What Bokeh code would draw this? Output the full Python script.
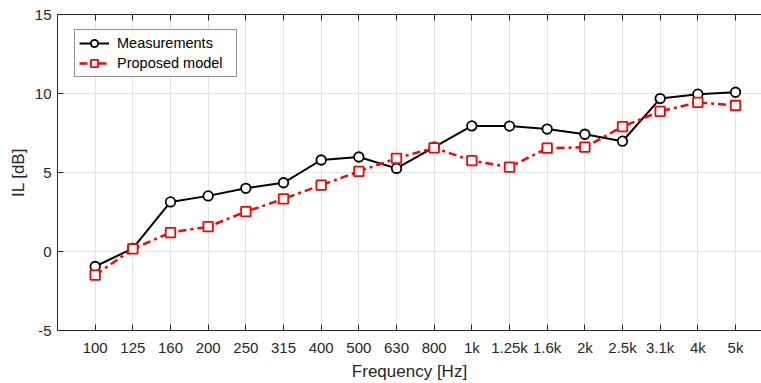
from bokeh.plotting import figure
from bokeh.models import (Range1d, FixedTicker, LinearAxis, Legend, LegendItem,
                          ColumnDataSource, Grid, CustomLabelingPolicy)
from bokeh.embed import file_html
from bokeh.resources import INLINE

# Insertion loss per 1/3-octave band
freq_labels = ["100", "125", "160", "200", "250", "315", "400", "500", "630",
               "800", "1k", "1.25k", "1.6k", "2k", "2.5k", "3.1k", "4k", "5k"]
measured = [-0.95, 0.2, 3.14, 3.52, 4.0, 4.35, 5.79, 5.98, 5.26, 6.6,
            7.95, 7.94, 7.75, 7.42, 6.98, 9.68, 9.96, 10.08]
model = [-1.49, 0.16, 1.2, 1.57, 2.52, 3.33, 4.2, 5.07, 5.9, 6.56,
         5.75, 5.34, 6.54, 6.6, 7.9, 8.87, 9.44, 9.24]
y_ticks = [-5, 0, 5, 10, 15]
y_tick_labels = ["-5", "0", "5", "10", "15"]

band_index = list(range(len(freq_labels)))
src = ColumnDataSource(dict(x=band_index, meas=measured, model=model))

FONT = "Liberation Sans"
AXIS_COLOR = "#262626"

p = figure(width=761, height=383, output_backend="svg", toolbar_location=None,
           x_range=Range1d(-1, 17.69), y_range=Range1d(-5, 15),
           min_border_left=57, min_border_right=0, min_border_top=14,
           min_border_bottom=51, x_axis_location=None, y_axis_location=None)
p.outline_line_color = None
p.background_fill_color = "white"
p.border_fill_color = "white"

xt = FixedTicker(ticks=band_index, minor_ticks=[])
yt = FixedTicker(ticks=y_ticks, minor_ticks=[])


def style_axis(ax):
    ax.axis_line_color = AXIS_COLOR
    ax.axis_line_width = 1
    ax.major_tick_line_color = AXIS_COLOR
    ax.major_tick_in = 6
    ax.major_tick_out = 0
    ax.minor_tick_line_color = None
    ax.major_label_text_font = FONT
    ax.major_label_text_font_size = "15px"
    ax.major_label_text_color = AXIS_COLOR
    ax.axis_label_text_font = FONT
    ax.axis_label_text_font_size = "17px"
    ax.axis_label_text_font_style = "normal"
    ax.axis_label_text_color = AXIS_COLOR


xb = LinearAxis(ticker=xt, axis_label="Frequency [Hz]",
                major_label_overrides={i: s for i, s in zip(band_index, freq_labels)})
style_axis(xb)
xb.major_label_standoff = 8
xb.axis_label_standoff = 3
p.add_layout(xb, "below")

# box edge along the top, ticks only
xtop = LinearAxis(ticker=xt, major_label_policy=CustomLabelingPolicy(
    code="for (const i of Array.from(indices)) { indices.unset(i) } return indices"))
style_axis(xtop)
xtop.major_label_standoff = 0
p.add_layout(xtop, "above")

yl = LinearAxis(ticker=yt, axis_label="IL [dB]",
                major_label_overrides={t: s for t, s in zip(y_ticks, y_tick_labels)})
style_axis(yl)
yl.major_label_standoff = 6
yl.axis_label_standoff = 4
p.add_layout(yl, "left")

p.xgrid.visible = False
p.ygrid.visible = False
p.add_layout(Grid(dimension=0, ticker=xt, grid_line_color="#e3e3e3", grid_line_width=1))
p.add_layout(Grid(dimension=1, ticker=yt, grid_line_color="#e3e3e3", grid_line_width=1))

# Measured curve
l1 = p.line("x", "meas", source=src, line_color="black", line_width=2)
s1 = p.scatter("x", "meas", source=src, marker="circle", size=9.5,
               line_color="black", line_width=1.8, fill_color="white")

# Model curve
l2 = p.line("x", "model", source=src, line_color="#ff0000", line_width=2.5,
            line_dash="8 4 3 4")
s2 = p.scatter("x", "model", source=src, marker="square", size=9.5,
               line_color="#ff0000", line_width=1.8, fill_color="white")

legend = Legend(items=[LegendItem(label="Measurements", renderers=[l1, s1]),
                       LegendItem(label="Proposed model", renderers=[l2, s2])],
                location=(17, 253))
legend.label_text_font = FONT
legend.label_text_font_size = "14.5px"
legend.label_text_color = "black"
legend.border_line_color = "#262626"
legend.border_line_width = 1
legend.background_fill_color = "white"
legend.background_fill_alpha = 1
legend.padding = 4
legend.spacing = 2
legend.glyph_height = 18
legend.label_height = 18
legend.glyph_width = 30
legend.label_standoff = 8
legend.label_width = 115
legend.margin = 0
p.add_layout(legend, "center")

open("out.html", "w").write(file_html(p, INLINE))
